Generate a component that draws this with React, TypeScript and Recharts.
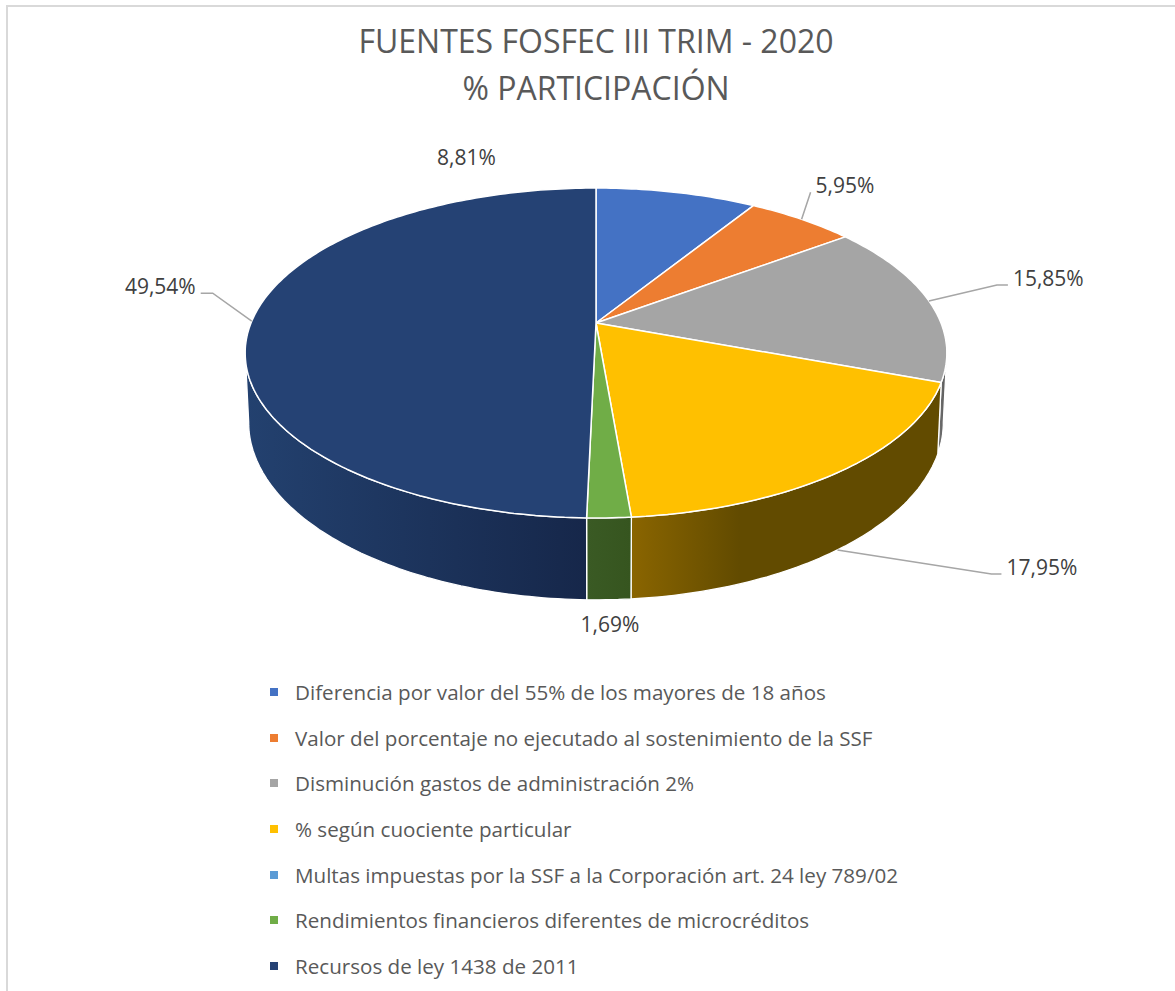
import { PieChart, Pie, Legend } from "recharts";

const categories = [
  "Diferencia por valor del 55% de los mayores de 18 años",
  "Valor del porcentaje no ejecutado al sostenimiento de la SSF",
  "Disminución gastos de administración 2%",
  "% según cuociente particular",
  "Multas impuestas por la SSF a la Corporación art. 24 ley 789/02",
  "Rendimientos financieros diferentes de microcréditos",
  "Recursos de ley 1438 de 2011",
];
const values = [8.81, 5.95, 15.85, 17.95, 0, 1.69, 49.54];

const topColors = ["#4472C4", "#ED7D31", "#A5A5A5", "#FFC000", "#5B9BD5", "#70AD47", "#254274"];
const wallLight = ["#2d4f8a", "#a5561f", "#747474", "#8a6500", "#3f6c95", "#3a5a24", "#23416f"];
const wallDark = ["#223b68", "#7c4117", "#575757", "#624b00", "#2f5170", "#36551f", "#16274a"];

// label offsets from the leader anchor (hook = horizontal bit of leader, -1 = no leader)
const labelPos = [
  { dx: -210, dy: -27, anchor: "middle", hook: -1 },
  { dx: 14, dy: -26, anchor: "start", hook: 0 },
  { dx: 84, dy: -15, anchor: "start", hook: 11 },
  { dx: 169, dy: 25, anchor: "start", hook: 10 },
  { dx: 0, dy: 0, anchor: "middle", hook: -1 },
  { dx: 1, dy: 32, anchor: "middle", hook: -1 },
  { dx: -56, dy: -27, anchor: "end", hook: 12 },
];

const data = categories.map((name, i) => ({ name, value: values[i], fill: topColors[i] }));

// fake perspective for the 3d look
const U = 0.1818; // perspective strength
const SQ = 0.4623; // vertical flattening
const DEPTH = 67; // wall height
const PHI_L = 90 + (Math.asin(U) * 180) / Math.PI;
const PHI_R = 270 - (Math.asin(U) * 180) / Math.PI;

function proj(cx: number, cy: number, r: number, phiDeg: number, drop = 0) {
  const p = (phiDeg * Math.PI) / 180;
  const X = Math.sin(p);
  const Y = Math.cos(p);
  const d = 1 + U * Y;
  const shrink = drop ? 0.99 : 1;
  return [cx + ((r * X) / d) * shrink, cy - (r * SQ * Y) / d + drop / d];
}

function arcPts(cx: number, cy: number, r: number, a: number, b: number, drop = 0) {
  const n = Math.max(2, Math.ceil(Math.abs(b - a)));
  const pts: number[][] = [];
  for (let k = 0; k <= n; k++) pts.push(proj(cx, cy, r, a + ((b - a) * k) / n, drop));
  return pts;
}

const idxOf = (p: any) => {
  const n = p.name ?? p.payload?.name ?? p.payload?.payload?.name;
  return categories.indexOf(n);
};

function WallShape(props: any) {
  const { cx, cy, outerRadius, startAngle, endAngle } = props;
  const i = idxOf(props);
  const a = 90 - startAngle;
  const b = 90 - endAngle;
  const lo = Math.max(a, PHI_L);
  const hi = Math.min(b, PHI_R);
  if (hi - lo <= 0.01) return <g />;
  const top = arcPts(cx, cy, outerRadius, lo, hi);
  const bot = arcPts(cx, cy, outerRadius, hi, lo, DEPTH);
  const d =
    "M" + top.map((p) => p[0].toFixed(1) + "," + p[1].toFixed(1)).join("L") +
    "L" + bot.map((p) => p[0].toFixed(1) + "," + p[1].toFixed(1)).join("L") + "Z";
  const id = "wall" + i;
  return (
    <g>
      <defs>
        <linearGradient id={id} x1="0" y1="0" x2="1" y2="0">
          <stop offset="0" stopColor={wallLight[i]} />
          <stop offset={i === 3 ? 0.35 : 1} stopColor={wallDark[i]} />
        </linearGradient>
      </defs>
      <path d={d} fill={`url(#${id})`} stroke="#fff" strokeWidth={1.3} strokeLinejoin="round" />
    </g>
  );
}

function TopShape(props: any) {
  const { cx, cy, outerRadius, startAngle, endAngle } = props;
  const i = idxOf(props);
  const a = 90 - startAngle;
  const b = 90 - endAngle;
  if (b - a <= 0.01) return <g />;
  const pts = arcPts(cx, cy, outerRadius, a, b);
  const d =
    `M${cx},${cy}L` + pts.map((p) => p[0].toFixed(1) + "," + p[1].toFixed(1)).join("L") + "Z";
  return <path d={d} fill={topColors[i]} stroke="#fff" strokeWidth={1.5} strokeLinejoin="round" />;
}

function renderLabel(props: any) {
  const { cx, cy, outerRadius, midAngle, index, value } = props;
  if (!value) return null;
  const phi = 90 - midAngle;
  const front = phi > PHI_L && phi < PHI_R;
  const [ax, ay] = proj(cx, cy, outerRadius, phi, front ? DEPTH : 0);
  const lp = labelPos[index];
  const tx = ax + lp.dx;
  const ty = ay + lp.dy;
  const sign = lp.anchor === "end" ? -1 : 1;
  let leader = null;
  if (lp.hook >= 0) {
    const ex = tx - sign * 5;
    const kx = ex - sign * lp.hook;
    leader = (
      <polyline
        points={`${ax},${ay} ${kx},${ty - 1} ${ex},${ty - 1}`}
        fill="none"
        stroke="#a6a6a6"
        strokeWidth={1.5}
      />
    );
  }
  return (
    <g>
      {leader}
      <text x={tx} y={ty} textAnchor={lp.anchor} fill="#404040" fontSize={21} fontFamily="'Open Sans', sans-serif">
        {value.toFixed(2).replace(".", ",") + "%"}
      </text>
    </g>
  );
}

function LegendList() {
  return (
    <div style={{ fontFamily: "'Open Sans', sans-serif", fontSize: 20.6, color: "#595959" }}>
      {categories.map((c, i) => (
        <div key={c} style={{ display: "flex", alignItems: "center", height: 45.7 }}>
          <span style={{ width: 8, height: 8, background: topColors[i], marginRight: 17, flexShrink: 0 }} />
          <span style={{ whiteSpace: "nowrap" }}>{c}</span>
        </div>
      ))}
    </div>
  );
}

export default function App() {
  return (
    <div
      style={{
        position: "absolute",
        left: 6,
        top: 5,
        width: 1180,
        height: 1000,
        border: "2px solid #d9d9d9",
        boxSizing: "border-box",
        background: "#fff",
      }}
    >
      <div
        style={{
          position: "absolute",
          left: 0,
          top: 10,
          width: 1176,
          textAlign: "center",
          fontFamily: "'Open Sans', sans-serif",
          fontSize: 32,
          lineHeight: "47px",
          color: "#595959",
        }}
      >
        <div>FUENTES FOSFEC III TRIM - 2020</div>
        <div>% PARTICIPACIÓN</div>
      </div>
      <div style={{ position: "absolute", left: 0, top: 0 }}>
        <PieChart width={1170} height={990} margin={{ top: 0, right: 0, bottom: 0, left: 0 }}>
          <Pie
            data={data}
            dataKey="value"
            nameKey="name"
            cx={588}
            cy={316}
            outerRadius={345}
            startAngle={90}
            endAngle={-270}
            shape={WallShape}
            label={false}
            labelLine={false}
            isAnimationActive={false}
          />
          <Pie
            data={data}
            dataKey="value"
            nameKey="name"
            cx={588}
            cy={316}
            outerRadius={345}
            startAngle={90}
            endAngle={-270}
            shape={TopShape}
            label={renderLabel}
            labelLine={false}
            isAnimationActive={false}
          />
          <Legend
            content={() => <LegendList />}
            wrapperStyle={{ position: "absolute", left: 262, top: 662, width: 800, height: 330 }}
          />
        </PieChart>
      </div>
    </div>
  );
}
